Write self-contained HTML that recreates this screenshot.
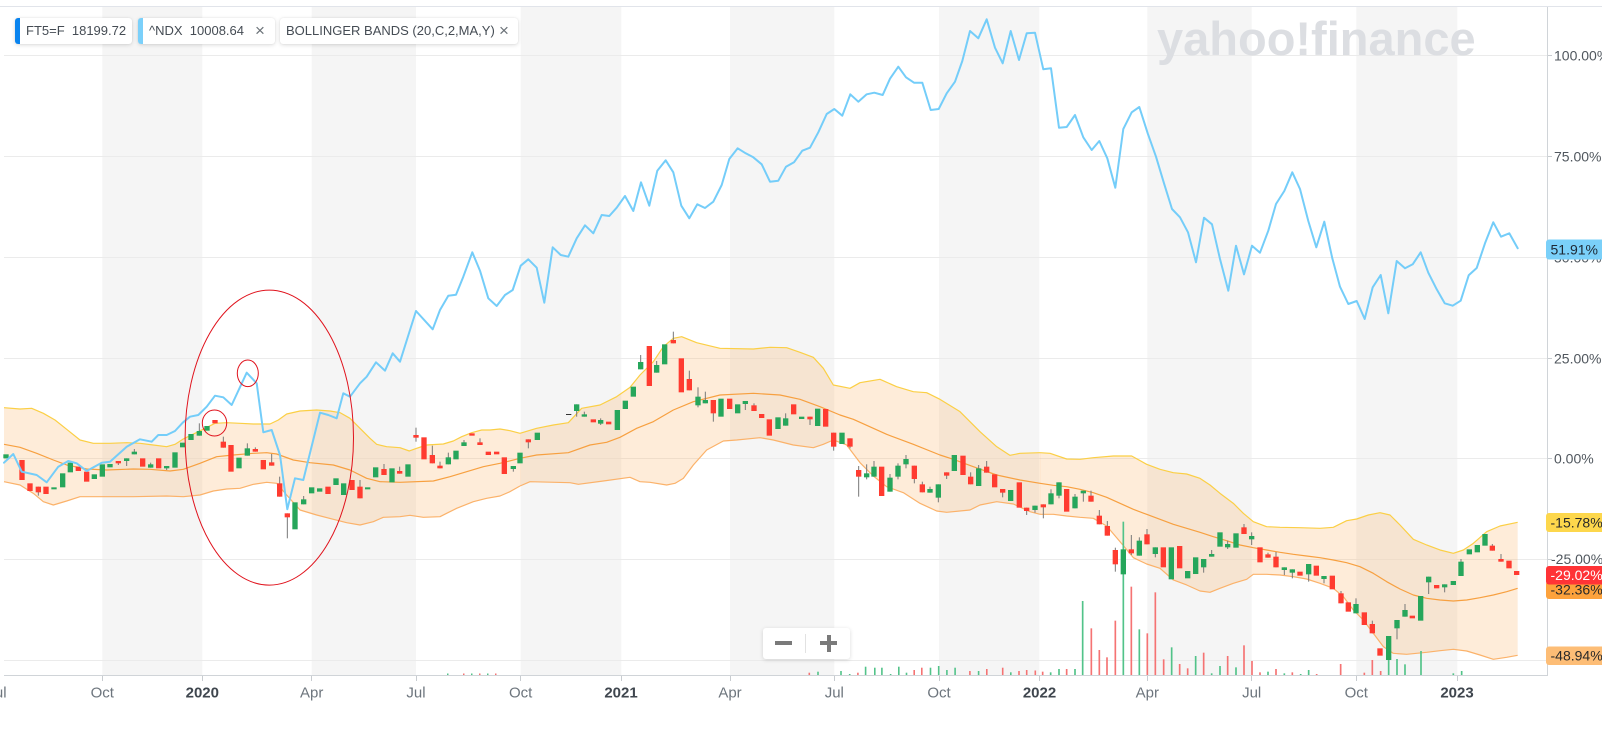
<!DOCTYPE html>
<html><head><meta charset="utf-8">
<style>
html,body{margin:0;padding:0;background:#fff;}
body{width:1602px;height:731px;overflow:hidden;position:relative;font-family:"Liberation Sans",Arial,sans-serif;}
svg{position:absolute;left:0;top:0;}
.g{fill:#26a65b}.r{fill:#ff3b30}.w{fill:#787878}
.vg{fill:#52c389}.vr{fill:#f57373}
.tag{position:absolute;top:18px;height:26px;background:#fff;border-radius:3px;box-shadow:0 1px 4px rgba(0,0,0,0.14),0 0 1px rgba(0,0,0,0.12);font-size:13px;color:#454c54;line-height:26px;white-space:pre;overflow:hidden;box-sizing:border-box;}
.tag .bar{position:absolute;left:0;top:0;bottom:0;width:5px;}
.x{position:absolute;top:0;font-size:17px;color:#6b7278;line-height:26px;}
.zc{position:absolute;left:763px;top:628px;width:87px;height:31px;background:#fff;border-radius:3px;box-shadow:0 1px 4px rgba(0,0,0,0.15);}
</style></head>
<body>
<svg width="1602" height="731" viewBox="0 0 1602 731" xmlns="http://www.w3.org/2000/svg">
<!-- shading -->
<g fill="#f5f5f5">
<rect x="102.3" y="7" width="100" height="668"/>
<rect x="311.7" y="7" width="104.3" height="668"/>
<rect x="520.7" y="7" width="100.6" height="668"/>
<rect x="730" y="7" width="104.3" height="668"/>
<rect x="939" y="7" width="100.3" height="668"/>
<rect x="1147.3" y="7" width="104.4" height="668"/>
<rect x="1356.3" y="7" width="101" height="668"/>
</g>
<line x1="0" y1="6.5" x2="1602" y2="6.5" stroke="#e1e4ea" stroke-width="1"/>
<!-- grid -->
<g stroke="#ebebeb" stroke-width="1">
<line x1="4" y1="55.5" x2="1547" y2="55.5"/>
<line x1="4" y1="156.5" x2="1547" y2="156.5"/>
<line x1="4" y1="257.5" x2="1547" y2="257.5"/>
<line x1="4" y1="358.5" x2="1547" y2="358.5"/>
<line x1="4" y1="458.5" x2="1547" y2="458.5"/>
<line x1="4" y1="559.5" x2="1547" y2="559.5"/>
<line x1="4" y1="660.5" x2="1547" y2="660.5"/>
</g>
<text x="1157" y="55" font-family="Liberation Sans, Arial, sans-serif" font-size="47" font-weight="bold" fill="#dcdee2">yahoo!finance</text>

<!-- bollinger fills -->
<g fill="rgba(252,176,96,0.24)" stroke="none">
<polygon transform="translate(0 280) scale(0.33333)" points="12,383 60,387 95,385 130,400 165,420 200,448 240,480 280,490 330,490 380,488 420,490 460,495 500,500 525,493 548,478 570,467 595,455 625,440 645,430 680,428 720,430 760,432 810,432 835,420 860,402 900,393 950,390 990,393 1020,398 1050,415 1080,445 1110,475 1130,493 1160,500 1200,503 1228,513 1250,505 1280,495 1330,492 1360,483 1385,470 1415,458 1445,450 1470,450 1500,447 1530,452 1561,460 1561,618 1530,635 1500,648 1460,655 1420,665 1370,685 1340,700 1320,710 1270,712 1230,706 1200,710 1150,712 1120,725 1080,735 1040,728 1000,718 950,705 900,690 860,645 830,610 800,607 760,613 720,625 680,627 640,633 600,645 550,650 500,648 400,650 300,650 240,650 200,663 160,675 130,665 100,640 60,615 12,605"/>
<polygon transform="translate(520 300) scale(0.33333)" points="0,400 50,385 100,375 145,368 185,325 240,315 290,290 330,262 360,225 400,185 430,140 460,115 485,110 530,128 600,145 700,147 750,142 800,143 840,157 880,172 910,205 940,255 990,265 1020,248 1080,238 1130,260 1180,275 1220,278 1260,298 1320,335 1380,395 1430,440 1470,466 1500,460 1561,458 1561,643 1530,635 1480,612 1430,605 1380,615 1350,630 1280,637 1250,633 1200,610 1150,578 1100,560 1060,528 1020,488 980,435 940,420 910,433 880,443 820,435 760,420 720,413 650,420 610,423 560,450 520,495 490,535 465,550 440,555 390,547 360,545 330,532 250,543 175,553 150,548 30,545 0,558"/>
<polygon transform="translate(1040 420) scale(0.33333)" points="0,98 30,100 80,117 120,118 160,113 220,108 275,108 320,133 360,148 400,158 440,162 480,175 510,195 540,220 580,250 610,280 640,305 680,320 720,322 780,323 840,325 880,322 920,302 950,297 985,285 1020,278 1050,285 1080,315 1120,358 1160,375 1200,390 1240,400 1270,390 1300,370 1340,335 1380,318 1433,307 1433,706 1400,712 1360,718 1320,705 1280,693 1240,688 1200,692 1160,697 1100,703 1060,700 1030,680 1000,640 970,600 940,570 910,530 880,505 840,490 800,477 760,470 720,465 680,463 640,463 620,478 580,490 540,505 510,517 480,513 440,495 400,480 360,445 320,432 280,413 240,365 200,318 160,295 120,292 80,288 40,283 0,283"/>
</g>
<!-- band lines -->
<g fill="none" stroke-width="1.2" stroke-linejoin="round">
<g transform="translate(0 280) scale(0.33333)">
<polyline vector-effect="non-scaling-stroke" stroke="#fbcf45" points="12,383 60,387 95,385 130,400 165,420 200,448 240,480 280,490 330,490 380,488 420,490 460,495 500,500 525,493 548,478 570,467 595,455 625,440 645,430 680,428 720,430 760,432 810,432 835,420 860,402 900,393 950,390 990,393 1020,398 1050,415 1080,445 1110,475 1130,493 1160,500 1200,503 1228,513 1250,505 1280,495 1330,492 1360,483 1385,470 1415,458 1445,450 1470,450 1500,447 1530,452 1560,460"/>
<polyline vector-effect="non-scaling-stroke" stroke="#f7a040" points="12,493 60,502 110,520 160,540 200,555 260,567 320,570 400,567 450,568 510,573 550,568 600,550 650,530 700,525 760,520 800,518 830,522 880,540 930,548 1000,555 1050,570 1100,595 1140,605 1200,607 1300,603 1350,590 1400,575 1450,560 1500,550 1560,535"/>
<polyline vector-effect="non-scaling-stroke" stroke="#fbb26a" points="12,605 60,615 100,640 130,665 160,675 200,663 240,650 300,650 400,650 500,648 550,650 600,645 640,633 680,627 720,625 760,613 800,607 830,610 860,645 900,690 950,705 1000,718 1040,728 1080,735 1120,725 1150,712 1200,710 1230,706 1270,712 1320,710 1340,700 1370,685 1420,665 1460,655 1500,648 1530,635 1560,618"/>
</g>
<g transform="translate(520 300) scale(0.33333)">
<polyline vector-effect="non-scaling-stroke" stroke="#fbcf45" points="0,400 50,385 100,375 145,368 185,325 240,315 290,290 330,262 360,225 400,185 430,140 460,115 485,110 530,128 600,145 700,147 750,142 800,143 840,157 880,172 910,205 940,255 990,265 1020,248 1080,238 1130,260 1180,275 1220,278 1260,298 1320,335 1380,395 1430,440 1470,466 1500,460 1560,458"/>
<polyline vector-effect="non-scaling-stroke" stroke="#f7a040" points="0,475 50,465 145,458 210,435 260,427 300,412 350,385 400,365 460,330 520,305 600,285 700,280 780,285 840,298 900,320 960,345 1000,358 1060,385 1100,403 1180,433 1260,465 1300,478 1360,500 1430,525 1500,540 1560,550"/>
<polyline vector-effect="non-scaling-stroke" stroke="#fbb26a" points="0,558 30,545 150,548 175,553 250,543 330,532 360,545 390,547 440,555 465,550 490,535 520,495 560,450 610,423 650,420 720,413 760,420 820,435 880,443 910,433 940,420 980,435 1020,488 1060,528 1100,560 1150,578 1200,610 1250,633 1280,637 1350,630 1380,615 1430,605 1480,612 1530,635 1560,643"/>
</g>
<g transform="translate(1040 420) scale(0.33333)">
<polyline vector-effect="non-scaling-stroke" stroke="#fbcf45" points="0,98 30,100 80,117 120,118 160,113 220,108 275,108 320,133 360,148 400,158 440,162 480,175 510,195 540,220 580,250 610,280 640,305 680,320 720,322 780,323 840,325 880,322 920,302 950,297 985,285 1020,278 1050,285 1080,315 1120,358 1160,375 1200,390 1240,400 1270,390 1300,370 1340,335 1380,318 1433,307"/>
<polyline vector-effect="non-scaling-stroke" stroke="#f7a040" points="0,190 40,196 80,200 120,208 160,218 200,232 240,250 280,268 320,283 360,298 400,313 440,325 480,337 520,350 560,362 600,375 640,383 680,390 720,397 760,403 800,408 840,413 880,420 920,428 960,440 1000,460 1040,485 1080,507 1120,525 1160,535 1200,540 1240,543 1280,540 1320,533 1360,525 1400,515 1433,505"/>
<polyline vector-effect="non-scaling-stroke" stroke="#fbb26a" points="0,283 40,283 80,288 120,292 160,295 200,318 240,365 280,413 320,432 360,445 400,480 440,495 480,513 510,517 540,505 580,490 620,478 640,463 680,463 720,465 760,470 800,477 840,490 880,505 910,530 940,570 970,600 1000,640 1030,680 1060,700 1100,703 1160,697 1200,692 1240,688 1280,693 1320,705 1360,718 1400,712 1433,706"/>
</g>
</g>

<!-- volume -->
<g>
<rect class="vg" x="447" y="673.5" width="1.5" height="1.5"/><rect class="vr" x="463" y="673.5" width="1.5" height="1.5"/><rect class="vg" x="471" y="673.5" width="1.5" height="1.5"/><rect class="vr" x="479" y="673.5" width="1.5" height="1.5"/><rect class="vg" x="487" y="673.5" width="1.5" height="1.5"/><rect class="vr" x="495" y="673.5" width="1.5" height="1.5"/>
<rect class="vr" x="808.5" y="672.7" width="1.6" height="2.3"/>
<rect class="vg" x="817.2" y="671.7" width="1.6" height="3.3"/>
<rect class="vg" x="840.2" y="671" width="1.6" height="4"/>
<rect class="vg" x="848.9" y="674" width="1.6" height="1"/>
<rect class="vr" x="857.1" y="672.7" width="1.6" height="2.3"/>
<rect class="vg" x="864.8" y="666.7" width="1.6" height="8.3"/>
<rect class="vg" x="874" y="667.7" width="1.6" height="7.3"/>
<rect class="vg" x="881.1" y="667.7" width="1.6" height="7.3"/>
<rect class="vg" x="889.8" y="674" width="1.6" height="1"/>
<rect class="vg" x="898" y="666.7" width="1.6" height="8.3"/>
<rect class="vg" x="905.7" y="672.7" width="1.6" height="2.3"/>
<rect class="vr" x="913.4" y="670" width="1.6" height="5"/>
<rect class="vr" x="921" y="667.7" width="1.6" height="7.3"/>
<rect class="vg" x="929.7" y="667.7" width="1.6" height="7.3"/>
<rect class="vg" x="937.9" y="666" width="1.6" height="9"/>
<rect class="vg" x="946.1" y="670" width="1.6" height="5"/>
<rect class="vg" x="954.3" y="667.7" width="1.6" height="7.3"/>
<rect class="vr" x="969.1" y="671" width="1.6" height="4"/>
<rect class="vg" x="977.8" y="671" width="1.6" height="4"/>
<rect class="vr" x="986" y="669" width="1.6" height="6"/>
<rect class="vr" x="1001.9" y="667.7" width="1.6" height="7.3"/>
<rect class="vg" x="1010" y="672.3" width="1.6" height="2.7"/>
<rect class="vr" x="1018.2" y="671" width="1.6" height="4"/>
<rect class="vr" x="1025.9" y="670" width="1.6" height="5"/>
<rect class="vr" x="1034.5" y="670.5" width="1.6" height="4.5"/>
</g>
<g transform="translate(1040 420) scale(0.33333)">
<rect class="vr" x="5.5" y="755" width="5" height="10"/>
<rect class="vg" x="29.5" y="757" width="5" height="8"/>
<rect class="vg" x="54.5" y="747" width="5" height="18"/>
<rect class="vr" x="77.5" y="747" width="5" height="18"/>
<rect class="vg" x="102.5" y="747" width="5" height="18"/>
<rect class="vg" x="125.5" y="543" width="5" height="222"/>
<rect class="vr" x="151.5" y="625" width="5" height="140"/>
<rect class="vr" x="175.5" y="690" width="5" height="75"/>
<rect class="vr" x="198.5" y="712" width="5" height="53"/>
<rect class="vr" x="223.5" y="602" width="5" height="163"/>
<rect class="vg" x="247.5" y="305" width="5" height="460"/>
<rect class="vr" x="271.5" y="500" width="5" height="265"/>
<rect class="vg" x="295.5" y="628" width="5" height="137"/>
<rect class="vr" x="319.5" y="640" width="5" height="125"/>
<rect class="vr" x="343.5" y="517" width="5" height="248"/>
<rect class="vr" x="368.5" y="718" width="5" height="47"/>
<rect class="vg" x="392.5" y="682" width="5" height="83"/>
<rect class="vr" x="416.5" y="732" width="5" height="33"/>
<rect class="vr" x="440.5" y="745" width="5" height="20"/>
<rect class="vg" x="464.5" y="708" width="5" height="57"/>
<rect class="vr" x="488.5" y="698" width="5" height="67"/>
<rect class="vg" x="512.5" y="760" width="5" height="5"/>
<rect class="vg" x="537.5" y="738" width="5" height="27"/>
<rect class="vr" x="560.5" y="708" width="5" height="57"/>
<rect class="vg" x="585.5" y="742" width="5" height="23"/>
<rect class="vr" x="609.5" y="676" width="5" height="89"/>
<rect class="vr" x="633.5" y="723" width="5" height="42"/>
<rect class="vr" x="657.5" y="757" width="5" height="8"/>
<rect class="vg" x="681.5" y="755" width="5" height="10"/>
<rect class="vr" x="705.5" y="747" width="5" height="18"/>
<rect class="vg" x="730.5" y="760" width="5" height="5"/>
<rect class="vr" x="754.5" y="757" width="5" height="8"/>
<rect class="vg" x="779.5" y="762" width="5" height="3"/>
<rect class="vg" x="803.5" y="750" width="5" height="15"/>
<rect class="vr" x="827.5" y="762" width="5" height="3"/>
<rect class="vr" x="899.5" y="732" width="5" height="33"/>
<rect class="vr" x="970.5" y="758" width="5" height="7"/>
<rect class="vr" x="994.5" y="720" width="5" height="45"/>
<rect class="vr" x="1019.5" y="753" width="5" height="12"/>
<rect class="vg" x="1043.5" y="715" width="5" height="50"/>
<rect class="vg" x="1068.5" y="717" width="5" height="48"/>
<rect class="vg" x="1092.5" y="733" width="5" height="32"/>
<rect class="vg" x="1140.5" y="693" width="5" height="72"/>
<rect class="vg" x="1237.5" y="760" width="5" height="5"/>
<rect class="vg" x="1262.5" y="753" width="5" height="12"/>
</g>

<!-- candles zoom7 region -->
<g transform="translate(0 280) scale(0.33333)">
<rect class="g" x="10" y="523" width="16" height="12"/>
<rect class="r" x="58" y="540" width="16" height="60"/>
<rect class="r" x="82" y="610" width="16" height="23"/>
<rect class="w" x="113.5" y="620" width="3" height="27"/><rect class="r" x="107" y="620" width="16" height="17"/>
<rect class="r" x="130" y="620" width="16" height="22"/>
<rect class="g" x="154" y="622" width="16" height="6"/>
<rect class="g" x="180" y="580" width="16" height="42"/>
<rect class="g" x="203" y="548" width="16" height="29"/>
<rect class="r" x="227" y="560" width="16" height="13"/>
<rect class="r" x="252" y="575" width="16" height="30"/>
<rect class="g" x="275" y="583" width="16" height="14"/>
<rect class="g" x="299" y="553" width="16" height="37"/>
<rect class="g" x="322" y="552" width="16" height="10"/>
<rect class="w" x="353.5" y="543" width="3" height="12"/><rect class="r" x="347" y="543" width="16" height="7"/>
<rect class="w" x="378.5" y="535" width="3" height="23"/><rect class="g" x="372" y="535" width="16" height="8"/>
<rect class="w" x="401.5" y="507" width="3" height="16"/><rect class="g" x="395" y="515" width="16" height="8"/>
<rect class="r" x="420" y="535" width="16" height="25"/>
<rect class="w" x="450.5" y="548" width="3" height="15"/><rect class="g" x="444" y="553" width="16" height="10"/>
<rect class="r" x="468" y="535" width="16" height="30"/>
<rect class="w" x="498.5" y="558" width="3" height="12"/><rect class="g" x="492" y="558" width="16" height="7"/>
<rect class="g" x="517" y="517" width="16" height="46"/>
<rect class="g" x="540" y="488" width="16" height="14"/>
<rect class="g" x="565" y="462" width="16" height="18"/>
<rect class="w" x="596.5" y="430" width="3" height="37"/><rect class="g" x="590" y="453" width="16" height="14"/>
<rect class="g" x="613" y="438" width="16" height="14"/>
<rect class="r" x="637" y="420" width="16" height="10"/>
<rect class="w" x="668.5" y="470" width="3" height="33"/><rect class="r" x="662" y="485" width="16" height="18"/>
<rect class="r" x="685" y="495" width="16" height="80"/>
<rect class="g" x="709" y="533" width="16" height="32"/>
<rect class="w" x="740.5" y="490" width="3" height="37"/><rect class="g" x="734" y="505" width="16" height="22"/>
<rect class="w" x="764.5" y="502" width="3" height="13"/><rect class="r" x="758" y="507" width="16" height="8"/>
<rect class="r" x="782" y="540" width="16" height="28"/>
<rect class="w" x="813.5" y="522" width="3" height="35"/><rect class="r" x="807" y="547" width="16" height="10"/>
<rect class="w" x="837.5" y="590" width="3" height="60"/><rect class="r" x="831" y="610" width="16" height="40"/>
<rect class="w" x="860.5" y="700" width="3" height="75"/><rect class="r" x="854" y="700" width="16" height="12"/>
<rect class="g" x="877" y="667" width="16" height="81"/>
<rect class="w" x="909.5" y="648" width="3" height="25"/><rect class="g" x="903" y="658" width="16" height="15"/>
<rect class="g" x="927" y="622" width="16" height="18"/>
<rect class="g" x="951" y="625" width="16" height="10"/>
<rect class="r" x="976" y="620" width="16" height="22"/>
<rect class="g" x="1000" y="595" width="16" height="20"/>
<rect class="g" x="1023" y="610" width="16" height="35"/>
<rect class="r" x="1048" y="600" width="16" height="30"/>
<rect class="w" x="1078.5" y="600" width="3" height="55"/><rect class="r" x="1072" y="620" width="16" height="35"/>
<rect class="g" x="1095" y="622" width="16" height="6"/>
<rect class="g" x="1119" y="562" width="16" height="30"/>
<rect class="w" x="1150.5" y="552" width="3" height="33"/><rect class="r" x="1144" y="567" width="16" height="18"/>
<rect class="g" x="1168" y="565" width="16" height="42"/>
<rect class="w" x="1197.5" y="560" width="3" height="21"/><rect class="r" x="1191" y="573" width="16" height="8"/>
<rect class="g" x="1216" y="553" width="16" height="37"/>
<rect class="w" x="1246.5" y="443" width="3" height="42"/><rect class="r" x="1240" y="465" width="16" height="8"/>
<rect class="r" x="1264" y="472" width="16" height="66"/>
<rect class="w" x="1295.5" y="497" width="3" height="53"/><rect class="r" x="1289" y="525" width="16" height="25"/>
<rect class="w" x="1318.5" y="545" width="3" height="20"/><rect class="r" x="1312" y="557" width="16" height="8"/>
<rect class="w" x="1343.5" y="518" width="3" height="35"/><rect class="g" x="1337" y="532" width="16" height="21"/>
<rect class="g" x="1360" y="512" width="16" height="26"/>
<rect class="w" x="1390.5" y="480" width="3" height="18"/><rect class="g" x="1384" y="487" width="16" height="11"/>
<rect class="r" x="1408" y="460" width="16" height="7"/>
<rect class="w" x="1438.5" y="475" width="3" height="20"/><rect class="r" x="1432" y="487" width="16" height="8"/>
<rect class="r" x="1457" y="515" width="16" height="10"/>
<rect class="r" x="1482" y="515" width="16" height="8"/>
<rect class="r" x="1505" y="532" width="16" height="50"/>
<rect class="w" x="1538.5" y="558" width="3" height="17"/><rect class="g" x="1532" y="558" width="16" height="9"/>
</g>

<!-- candles zoom10 region -->
<g transform="translate(520 300) scale(0.33333)">
<rect class="g" x="-8" y="458" width="16" height="32"/>
<rect class="w" x="23.5" y="418" width="3" height="27"/><rect class="r" x="17" y="418" width="16" height="9"/>
<rect class="g" x="44" y="398" width="16" height="22"/>
<rect x="138" y="342" width="16" height="3" fill="#333"/>
<rect class="w" x="168.5" y="313" width="3" height="37"/><rect class="g" x="162" y="313" width="16" height="20"/>
<rect class="w" x="191.5" y="335" width="3" height="15"/><rect class="g" x="185" y="343" width="16" height="7"/>
<rect class="r" x="212" y="358" width="16" height="9"/>
<rect class="w" x="240.5" y="355" width="3" height="20"/><rect class="g" x="234" y="360" width="16" height="11"/>
<rect class="r" x="258" y="365" width="16" height="8"/>
<rect class="g" x="284" y="330" width="16" height="60"/>
<rect class="g" x="308" y="302" width="16" height="25"/>
<rect class="g" x="332" y="260" width="16" height="30"/>
<rect class="w" x="360.5" y="165" width="3" height="43"/><rect class="g" x="354" y="186" width="16" height="22"/>
<rect class="r" x="380" y="138" width="16" height="120"/>
<rect class="w" x="408.5" y="183" width="3" height="35"/><rect class="g" x="402" y="195" width="16" height="23"/>
<rect class="g" x="426" y="133" width="16" height="60"/>
<rect class="w" x="458.5" y="95" width="3" height="35"/><rect class="r" x="452" y="120" width="16" height="10"/>
<rect class="r" x="476" y="175" width="16" height="102"/>
<rect class="w" x="506.5" y="212" width="3" height="59"/><rect class="r" x="500" y="237" width="16" height="34"/>
<rect class="w" x="532.5" y="262" width="3" height="60"/><rect class="g" x="526" y="290" width="16" height="26"/>
<rect class="w" x="554.5" y="275" width="3" height="35"/><rect class="g" x="548" y="300" width="16" height="10"/>
<rect class="w" x="578.5" y="300" width="3" height="65"/><rect class="r" x="572" y="300" width="16" height="40"/>
<rect class="g" x="595" y="296" width="16" height="54"/>
<rect class="r" x="621" y="296" width="16" height="31"/>
<rect class="g" x="645" y="313" width="16" height="27"/>
<rect class="w" x="674.5" y="303" width="3" height="27"/><rect class="g" x="668" y="303" width="16" height="9"/>
<rect class="w" x="700.5" y="310" width="3" height="23"/><rect class="r" x="694" y="316" width="16" height="17"/>
<rect class="r" x="717" y="342" width="16" height="12"/>
<rect class="r" x="740" y="358" width="16" height="49"/>
<rect class="g" x="766" y="352" width="16" height="35"/>
<rect class="w" x="795.5" y="340" width="3" height="37"/><rect class="g" x="789" y="355" width="16" height="22"/>
<rect class="r" x="813" y="313" width="16" height="30"/>
<rect class="g" x="837" y="350" width="16" height="7"/>
<rect class="w" x="868.5" y="350" width="3" height="25"/><rect class="r" x="862" y="350" width="16" height="8"/>
<rect class="g" x="885" y="326" width="16" height="52"/>
<rect class="r" x="909" y="327" width="16" height="53"/>
<rect class="w" x="939.5" y="398" width="3" height="54"/><rect class="r" x="933" y="398" width="16" height="42"/>
<rect class="g" x="958" y="398" width="16" height="34"/>
<rect class="w" x="988.5" y="415" width="3" height="30"/><rect class="r" x="982" y="415" width="16" height="25"/>
<rect class="w" x="1014.5" y="498" width="3" height="92"/><rect class="r" x="1008" y="510" width="16" height="20"/>
<rect class="w" x="1038.5" y="493" width="3" height="45"/><rect class="g" x="1032" y="520" width="16" height="12"/>
<rect class="w" x="1060.5" y="483" width="3" height="47"/><rect class="g" x="1054" y="500" width="16" height="30"/>
<rect class="r" x="1077" y="500" width="16" height="88"/>
<rect class="w" x="1108.5" y="522" width="3" height="53"/><rect class="g" x="1102" y="533" width="16" height="42"/>
<rect class="w" x="1132.5" y="490" width="3" height="48"/><rect class="g" x="1126" y="497" width="16" height="33"/>
<rect class="w" x="1156.5" y="465" width="3" height="40"/><rect class="g" x="1150" y="477" width="16" height="16"/>
<rect class="w" x="1181.5" y="497" width="3" height="53"/><rect class="r" x="1175" y="497" width="16" height="40"/>
<rect class="w" x="1205.5" y="545" width="3" height="32"/><rect class="r" x="1199" y="553" width="16" height="24"/>
<rect class="w" x="1228.5" y="560" width="3" height="18"/><rect class="g" x="1222" y="567" width="16" height="11"/>
<rect class="w" x="1253.5" y="553" width="3" height="54"/><rect class="g" x="1247" y="553" width="16" height="40"/>
<rect class="w" x="1278.5" y="517" width="3" height="20"/><rect class="r" x="1272" y="517" width="16" height="10"/>
<rect class="g" x="1295" y="465" width="16" height="48"/>
<rect class="r" x="1321" y="467" width="16" height="58"/>
<rect class="w" x="1350.5" y="517" width="3" height="36"/><rect class="r" x="1344" y="530" width="16" height="23"/>
<rect class="w" x="1374.5" y="495" width="3" height="63"/><rect class="g" x="1368" y="505" width="16" height="53"/>
<rect class="w" x="1398.5" y="483" width="3" height="35"/><rect class="r" x="1392" y="500" width="16" height="18"/>
<rect class="r" x="1416" y="523" width="16" height="39"/>
<rect class="w" x="1446.5" y="567" width="3" height="25"/><rect class="r" x="1440" y="567" width="16" height="11"/>
<rect class="g" x="1464" y="570" width="16" height="33"/>
<rect class="r" x="1490" y="547" width="16" height="76"/>
<rect class="w" x="1518.5" y="623" width="3" height="22"/><rect class="r" x="1512" y="623" width="16" height="10"/>
<rect class="w" x="1543.5" y="617" width="3" height="21"/><rect class="g" x="1537" y="617" width="16" height="13"/>
</g>

<!-- candles zoom11 region -->
<g transform="translate(1040 420) scale(0.33333)">
<rect class="w" x="8.5" y="253" width="3" height="42"/><rect class="r" x="2" y="253" width="16" height="9"/>
<rect class="w" x="31.5" y="208" width="3" height="45"/><rect class="g" x="25" y="220" width="16" height="33"/>
<rect class="w" x="55.5" y="187" width="3" height="48"/><rect class="g" x="49" y="187" width="16" height="40"/>
<rect class="r" x="72" y="207" width="16" height="68"/>
<rect class="w" x="103.5" y="222" width="3" height="43"/><rect class="g" x="97" y="230" width="16" height="35"/>
<rect class="w" x="128.5" y="212" width="3" height="33"/><rect class="g" x="122" y="212" width="16" height="8"/>
<rect class="w" x="151.5" y="212" width="3" height="33"/><rect class="r" x="145" y="227" width="16" height="18"/>
<rect class="w" x="176.5" y="270" width="3" height="43"/><rect class="r" x="170" y="287" width="16" height="26"/>
<rect class="w" x="200.5" y="303" width="3" height="44"/><rect class="r" x="194" y="318" width="16" height="29"/>
<rect class="w" x="224.5" y="383" width="3" height="72"/><rect class="r" x="218" y="390" width="16" height="43"/>
<rect class="g" x="242" y="388" width="16" height="75"/>
<rect class="w" x="272.5" y="345" width="3" height="60"/><rect class="r" x="266" y="388" width="16" height="12"/>
<rect class="w" x="296.5" y="352" width="3" height="55"/><rect class="g" x="290" y="362" width="16" height="45"/>
<rect class="w" x="319.5" y="327" width="3" height="46"/><rect class="r" x="313" y="343" width="16" height="30"/>
<rect class="w" x="344.5" y="382" width="3" height="30"/><rect class="g" x="338" y="382" width="16" height="20"/>
<rect class="r" x="362" y="382" width="16" height="60"/>
<rect class="g" x="386" y="382" width="16" height="96"/>
<rect class="r" x="411" y="378" width="16" height="67"/>
<rect class="g" x="435" y="453" width="16" height="22"/>
<rect class="g" x="459" y="412" width="16" height="50"/>
<rect class="w" x="489.5" y="417" width="3" height="41"/><rect class="g" x="483" y="417" width="16" height="25"/>
<rect class="w" x="513.5" y="390" width="3" height="20"/><rect class="g" x="507" y="402" width="16" height="8"/>
<rect class="g" x="532" y="337" width="16" height="43"/>
<rect class="w" x="561.5" y="362" width="3" height="25"/><rect class="g" x="555" y="372" width="16" height="10"/>
<rect class="g" x="580" y="340" width="16" height="43"/>
<rect class="w" x="610.5" y="312" width="3" height="30"/><rect class="r" x="604" y="322" width="16" height="20"/>
<rect class="w" x="633.5" y="337" width="3" height="38"/><rect class="g" x="627" y="348" width="16" height="10"/>
<rect class="r" x="652" y="382" width="16" height="45"/>
<rect class="w" x="682.5" y="398" width="3" height="15"/><rect class="r" x="676" y="403" width="16" height="10"/>
<rect class="w" x="706.5" y="396" width="3" height="46"/><rect class="r" x="700" y="410" width="16" height="32"/>
<rect class="w" x="731.5" y="442" width="3" height="23"/><rect class="g" x="725" y="442" width="16" height="8"/>
<rect class="w" x="755.5" y="448" width="3" height="27"/><rect class="g" x="749" y="448" width="16" height="10"/>
<rect class="r" x="772" y="455" width="16" height="12"/>
<rect class="w" x="804.5" y="432" width="3" height="53"/><rect class="g" x="798" y="432" width="16" height="31"/>
<rect class="r" x="821" y="437" width="16" height="30"/>
<rect class="w" x="850.5" y="468" width="3" height="22"/><rect class="g" x="844" y="468" width="16" height="9"/>
<rect class="r" x="869" y="467" width="16" height="41"/>
<rect class="w" x="901.5" y="513" width="3" height="37"/><rect class="r" x="895" y="520" width="16" height="30"/>
<rect class="r" x="917" y="547" width="16" height="28"/>
<rect class="w" x="946.5" y="535" width="3" height="45"/><rect class="g" x="940" y="552" width="16" height="28"/>
<rect class="r" x="965" y="577" width="16" height="38"/>
<rect class="w" x="995.5" y="602" width="3" height="38"/><rect class="r" x="989" y="612" width="16" height="28"/>
<rect class="r" x="1012" y="685" width="16" height="22"/>
<rect class="g" x="1038" y="648" width="16" height="72"/>
<rect class="w" x="1069.5" y="600" width="3" height="58"/><rect class="g" x="1063" y="600" width="16" height="25"/>
<rect class="w" x="1093.5" y="552" width="3" height="38"/><rect class="g" x="1087" y="570" width="16" height="20"/>
<rect class="r" x="1109" y="587" width="16" height="8"/>
<rect class="g" x="1134" y="528" width="16" height="74"/>
<rect class="w" x="1164.5" y="470" width="3" height="52"/><rect class="g" x="1158" y="470" width="16" height="17"/>
<rect class="r" x="1182" y="495" width="16" height="10"/>
<rect class="w" x="1212.5" y="493" width="3" height="24"/><rect class="g" x="1206" y="493" width="16" height="9"/>
<rect class="g" x="1232" y="483" width="16" height="12"/>
<rect class="w" x="1261.5" y="417" width="3" height="51"/><rect class="g" x="1255" y="425" width="16" height="43"/>
<rect class="g" x="1280" y="388" width="16" height="15"/>
<rect class="g" x="1304" y="375" width="16" height="22"/>
<rect class="g" x="1327" y="342" width="16" height="35"/>
<rect class="w" x="1355.5" y="372" width="3" height="20"/><rect class="r" x="1349" y="377" width="16" height="15"/>
<rect class="w" x="1381.5" y="402" width="3" height="23"/><rect class="r" x="1375" y="417" width="16" height="8"/>
<rect class="r" x="1399" y="422" width="16" height="23"/>
<rect class="r" x="1422" y="453" width="16" height="12"/>
</g>

<!-- NDX line -->
<polyline fill="none" stroke="#74cdf9" stroke-width="2" stroke-linejoin="round" stroke-linecap="round" points="4,462.7 13.3,454 21.7,471.7 36.7,475 46.7,482.3 58.3,466.7 68.3,461 76.7,463.3 86.7,471 101.7,462.7 110,461.7 126.7,446.7 140,439.3 151.7,441.7 158.3,435 166.7,435 175,431 182.7,422.7 190,416.7 198.3,415 206.7,406.7 215,395.7 223.3,397.3 231.7,405 246.7,372.7 256.7,383.3 263.3,432.3 271.7,430 280,455 287.3,509.3 295,478.3 303.3,480 320,412.7 328.3,415 336.7,418.3 343.3,393.3 350,396.7 360,383.3 366.7,376.7 376,362.3 385,370.7 392.7,353.3 400,361.7 416,311 432.7,329.3 440,310 448.3,295.7 456,294.7 463.3,276.7 472.3,252.3 480,270.7 488.3,298.3 496.7,306 505,295 512.7,290 520.7,265.7 528.3,259.3 536.7,267.7 544.3,302.7 552.7,247.3 560.7,255 568.3,256.7 576.7,238.3 585,225.3 593.3,233.3 601.7,215 609.3,216 616.7,207.7 625,196 633.3,211 641,182.3 649.3,205.7 657.3,170.7 665.7,160.3 673.3,172.3 681.3,205.7 689.3,218.3 697.3,204.3 705,208 713.3,201.7 721.7,185 729.3,159 737.7,148.3 745.7,153.3 753.3,157.3 761.7,164.3 770,181.7 778.3,180.7 786,166.7 794,162.3 802.3,150.7 810,147.7 818.3,132.3 826.7,114 834.3,109 842.3,115.7 850.3,94.3 858.3,101.7 866.7,94.3 874.3,92.7 882.7,95 890,78.7 898.3,66.7 906,77.3 914,82.7 922.3,82.7 930.7,110 938.7,109 946.7,93.3 955,81.7 962.3,61 970,31 978.3,38.3 986.7,19.3 995,47.7 1002.7,63.3 1010.7,31 1019,60 1026.7,33.3 1035,32.7 1043.3,69.3 1051,68.3 1059,127.7 1066.7,127 1075,115 1083.3,137.3 1091.7,150 1099.3,141 1107.3,158.3 1115.3,187.7 1123.3,129 1131.7,112.3 1139.3,107 1147.7,133.3 1156,156.7 1164,183.3 1172,209 1180,217.3 1188,232.3 1196,262.3 1204,217.7 1212,224.3 1220,259 1228.3,290.7 1236,245.7 1244,274.3 1252,245.7 1260,252.7 1268.3,230.7 1276,204 1284.3,191 1292.3,172.3 1300,189 1308.3,221 1316.3,247.3 1324.3,221.7 1332.3,258.3 1340,286.7 1348.3,304 1356.7,301 1364.7,319 1372.7,287.3 1380.7,275 1388.3,313.3 1396.7,261 1405,268.3 1412.7,264.3 1420.7,252.3 1428.3,272.7 1436.7,289.3 1444.7,303.3 1452.7,305.7 1460.7,300.7 1468.7,275.3 1476.7,268 1485,243.3 1493.3,222.3 1501,236.7 1509.3,233.3 1517.7,248.3"/>

<!-- red annotations -->
<g fill="none" stroke="#e0121c" stroke-width="1">
<ellipse cx="269.3" cy="437.6" rx="84.2" ry="147.5"/>
<ellipse cx="247.8" cy="373.3" rx="10.5" ry="13.3"/>
<ellipse cx="214.5" cy="423" rx="12.2" ry="13"/>
</g>

<!-- axes -->
<line x1="4" y1="675.5" x2="1548" y2="675.5" stroke="#d0d4d8" stroke-width="1"/>
<line x1="1547.5" y1="7" x2="1547.5" y2="676" stroke="#d0d4d8" stroke-width="1"/>
<g stroke="#c8ccd0" stroke-width="1">
<line x1="102.5" y1="676" x2="102.5" y2="681"/><line x1="202.5" y1="676" x2="202.5" y2="681"/><line x1="311.5" y1="676" x2="311.5" y2="681"/><line x1="416.5" y1="676" x2="416.5" y2="681"/><line x1="520.5" y1="676" x2="520.5" y2="681"/><line x1="621.5" y1="676" x2="621.5" y2="681"/><line x1="730.5" y1="676" x2="730.5" y2="681"/><line x1="834.5" y1="676" x2="834.5" y2="681"/><line x1="939.5" y1="676" x2="939.5" y2="681"/><line x1="1039.5" y1="676" x2="1039.5" y2="681"/><line x1="1147.5" y1="676" x2="1147.5" y2="681"/><line x1="1251.5" y1="676" x2="1251.5" y2="681"/><line x1="1356.5" y1="676" x2="1356.5" y2="681"/><line x1="1457.5" y1="676" x2="1457.5" y2="681"/>
<line x1="1548" y1="55.5" x2="1552" y2="55.5"/><line x1="1548" y1="156.5" x2="1552" y2="156.5"/><line x1="1548" y1="257.5" x2="1552" y2="257.5"/><line x1="1548" y1="358.5" x2="1552" y2="358.5"/><line x1="1548" y1="458.5" x2="1552" y2="458.5"/><line x1="1548" y1="559.5" x2="1552" y2="559.5"/><line x1="1548" y1="660.5" x2="1552" y2="660.5"/>
</g>
<g font-family="Liberation Sans, Arial, sans-serif" font-size="15" text-anchor="middle" fill="#6d757d">
<text x="-3" y="697.5">Jul</text>
<text x="102.3" y="697.5">Oct</text>
<text x="202.3" y="697.5" font-weight="bold" fill="#3f464e">2020</text>
<text x="311.7" y="697.5">Apr</text>
<text x="416" y="697.5">Jul</text>
<text x="520.7" y="697.5">Oct</text>
<text x="621" y="697.5" font-weight="bold" fill="#3f464e">2021</text>
<text x="730" y="697.5">Apr</text>
<text x="834.3" y="697.5">Jul</text>
<text x="939" y="697.5">Oct</text>
<text x="1039.5" y="697.5" font-weight="bold" fill="#3f464e">2022</text>
<text x="1147.3" y="697.5">Apr</text>
<text x="1251.7" y="697.5">Jul</text>
<text x="1356.3" y="697.5">Oct</text>
<text x="1457" y="697.5" font-weight="bold" fill="#3f464e">2023</text>
</g>
<g font-family="Liberation Sans, Arial, sans-serif" font-size="14" fill="#50575e">
<text x="1554" y="60.5">100.00%</text>
<text x="1554" y="161.5">75.00%</text>
<text x="1554" y="262.5">50.00%</text>
<text x="1554" y="363.5">25.00%</text>
<text x="1554" y="463.5">0.00%</text>
<text x="1551" y="564">-25.00%</text>
<text x="1551" y="665">-50.00%</text>
</g>
<!-- value labels -->
<g font-family="Liberation Sans, Arial, sans-serif" font-size="14">
<rect x="1546" y="239.5" width="62" height="20" rx="3" fill="#7ad0f9"/>
<text x="1550.5" y="254.5" fill="#1d2833">51.91%</text>
<rect x="1546" y="513" width="62" height="19" rx="3" fill="#fdd74c"/>
<text x="1550.5" y="527.5" fill="#2a2a2a">-15.78%</text>
<rect x="1546" y="581" width="62" height="18" rx="3" fill="#fda23c"/>
<text x="1550.5" y="594.5" fill="#2a2a2a">-32.36%</text>
<rect x="1546" y="566" width="62" height="18.5" rx="3" fill="#ff3336"/>
<text x="1550.5" y="580" fill="#ffffff">-29.02%</text>
<rect x="1546" y="646.5" width="62" height="18.5" rx="3" fill="#fdbd76"/>
<text x="1550.5" y="660.5" fill="#2a2a2a">-48.94%</text>
</g>
</svg>

<div class="tag" style="left:15px;width:117px;padding-left:11px;"><div class="bar" style="background:#0a84ef;"></div>FT5=F  18199.72</div>
<div class="tag" style="left:138px;width:137px;padding-left:11px;"><div class="bar" style="background:#7bd0fa;"></div>^NDX  10008.64<span class="x" style="left:117px;">×</span></div>
<div class="tag" style="left:280px;width:238px;padding-left:6px;">BOLLINGER BANDS (20,C,2,MA,Y)<span class="x" style="left:219px;">×</span></div>

<div class="zc">
  <div style="position:absolute;left:12px;top:13px;width:17px;height:4px;background:#7a7a7a;"></div>
  <div style="position:absolute;left:42px;top:6px;width:1px;height:19px;background:#e2e2e2;"></div>
  <div style="position:absolute;left:57px;top:13px;width:17px;height:4px;background:#7a7a7a;"></div>
  <div style="position:absolute;left:63.5px;top:6.5px;width:4px;height:17px;background:#7a7a7a;"></div>
</div>
</body></html>
